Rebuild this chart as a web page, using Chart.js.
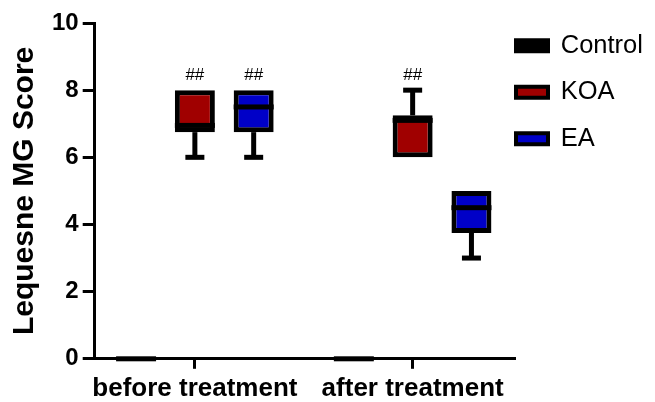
<!DOCTYPE html>
<html>
<head>
<meta charset="utf-8">
<script src="https://cdn.jsdelivr.net/npm/chart.js@4.4.0/dist/chart.umd.min.js"></script>
<style>
  html, body { margin: 0; padding: 0; background: #fff; }
</style>
</head>
<body>
<canvas id="c" width="655" height="402"></canvas>
<script>
const groups = ["before treatment", "after treatment"];
const yTicks = [0, 2, 4, 6, 8, 10];

// box plot stats per group (min, Q1, median, Q3, max)
const controlMin = [0, 0];
const controlQ1 = [0, 0];
const controlMedian = [0, 0];
const controlQ3 = [0, 0];
const controlMax = [0, 0];
const controlMarks = ["", ""];

const koaMin = [6, 6];
const koaQ1 = [6.75, 6];
const koaMedian = [6.95, 7.1];
const koaQ3 = [8, 7.25];
const koaMax = [8, 8];
const koaMarks = ["##", "##"];

const eaMin = [6, 3];
const eaQ1 = [6.75, 3.75];
const eaMedian = [7.5, 4.5];
const eaQ3 = [8, 5];
const eaMax = [8, 5];
const eaMarks = ["##", ""];

const FONT = "'Liberation Sans', Arial, sans-serif";
Chart.defaults.font.family = FONT;
Chart.defaults.color = "#000";

function boxDataset(label, color, min, q1, med, q3, max, marks) {
  return {
    label,
    data: groups.map((g, i) => ({ x: i + 1, y: [q1[i], q3[i]] })),
    whiskerMin: min,
    whiskerMax: max,
    median: med,
    marks,
    backgroundColor: color,
    borderColor: "#000",
    borderWidth: 5,
    borderSkipped: false,
    categoryPercentage: 0.81,
    barPercentage: 0.68,
  };
}

// whiskers, caps, median line and the ## marks
const boxWhiskers = {
  id: "boxWhiskers",
  afterDatasetsDraw(chart) {
    const ctx = chart.ctx;
    const ys = chart.scales.y;
    chart.data.datasets.forEach((ds, di) => {
      const meta = chart.getDatasetMeta(di);
      meta.data.forEach((bar, i) => {
        const { x, width } = bar.getProps(["x", "width"], true);
        const pMin = ys.getPixelForValue(ds.whiskerMin[i]);
        const pMax = ys.getPixelForValue(ds.whiskerMax[i]);
        const pLo = ys.getPixelForValue(ds.data[i].y[0]);
        const pHi = ys.getPixelForValue(ds.data[i].y[1]);
        const pMed = ys.getPixelForValue(ds.median[i]);
        ctx.save();
        ctx.fillStyle = "#000";
        if (pMin > pLo) {
          ctx.fillRect(x - 2.5, pLo, 5, pMin - pLo);
          ctx.fillRect(x - 9.5, pMin - 2.5, 19, 5);
        }
        if (pMax < pHi) {
          ctx.fillRect(x - 2.5, pMax, 5, pHi - pMax);
          ctx.fillRect(x - 9.5, pMax - 2.5, 19, 5);
        }
        ctx.fillRect(x - width / 2, pMed - 2.5, width, 5);
        if (ds.marks[i]) {
          ctx.font = "17px " + FONT;
          ctx.textAlign = "center";
          ctx.textBaseline = "alphabetic";
          ctx.fillText(ds.marks[i], x, pMax - 10);
        }
        ctx.restore();
      });
    });
  },
  afterLayout(chart) {
    // legend sits a bit into the plot's right margin, as in the original
    const lg = chart.legend;
    lg.left -= 20;
    lg.top -= 11;
  },
};

new Chart(document.getElementById("c"), {
  type: "bar",
  data: {
    datasets: [
      boxDataset("Control", "#000", controlMin, controlQ1, controlMedian, controlQ3, controlMax, controlMarks),
      boxDataset("KOA", "#a00000", koaMin, koaQ1, koaMedian, koaQ3, koaMax, koaMarks),
      boxDataset("EA", "#0000c8", eaMin, eaQ1, eaMedian, eaQ3, eaMax, eaMarks),
    ],
  },
  options: {
    responsive: false,
    animation: false,
    layout: { padding: { left: 4, top: 23, right: 0, bottom: -6 } },
    plugins: {
      tooltip: { enabled: false },
      legend: {
        position: "right",
        align: "start",
        maxWidth: 140,
        labels: {
          boxWidth: 32,
          boxHeight: 11,
          padding: 21,
          color: "#000",
          font: { size: 25.5 },
          generateLabels: (chart) => chart.data.datasets.map((ds, i) => ({
            text: ds.label,
            fillStyle: ds.backgroundColor,
            strokeStyle: "#000",
            lineWidth: 4,
            hidden: false,
            datasetIndex: i,
          })),
        },
      },
    },
    scales: {
      x: {
        type: "linear",
        min: 0.54,
        max: 2.47,
        offset: false,
        afterBuildTicks: (s) => { s.ticks = groups.map((g, i) => ({ value: i + 1 })); },
        border: { display: true, color: "#000", width: 3 },
        grid: { offset: false, drawOnChartArea: false, tickLength: 10, tickWidth: 3, tickColor: "#000" },
        ticks: {
          color: "#000",
          autoSkip: false,
          maxRotation: 0,
          padding: 4,
          font: { size: 26, weight: "bold" },
          callback: (v) => groups[v - 1],
        },
      },
      y: {
        min: 0,
        max: 10,
        afterBuildTicks: (s) => { s.ticks = yTicks.map((v) => ({ value: v })); },
        border: { display: true, color: "#000", width: 3 },
        grid: { drawOnChartArea: false, tickLength: 12, tickWidth: 3, tickColor: "#000" },
        ticks: { color: "#000", padding: 4, font: { size: 24, weight: "bold" } },
        title: {
          display: true,
          text: "Lequesne MG Score",
          color: "#000",
          font: { size: 30, weight: "bold" },
          padding: { top: 3, bottom: 5 },
        },
      },
    },
  },
  plugins: [boxWhiskers],
});
</script>
</body>
</html>
